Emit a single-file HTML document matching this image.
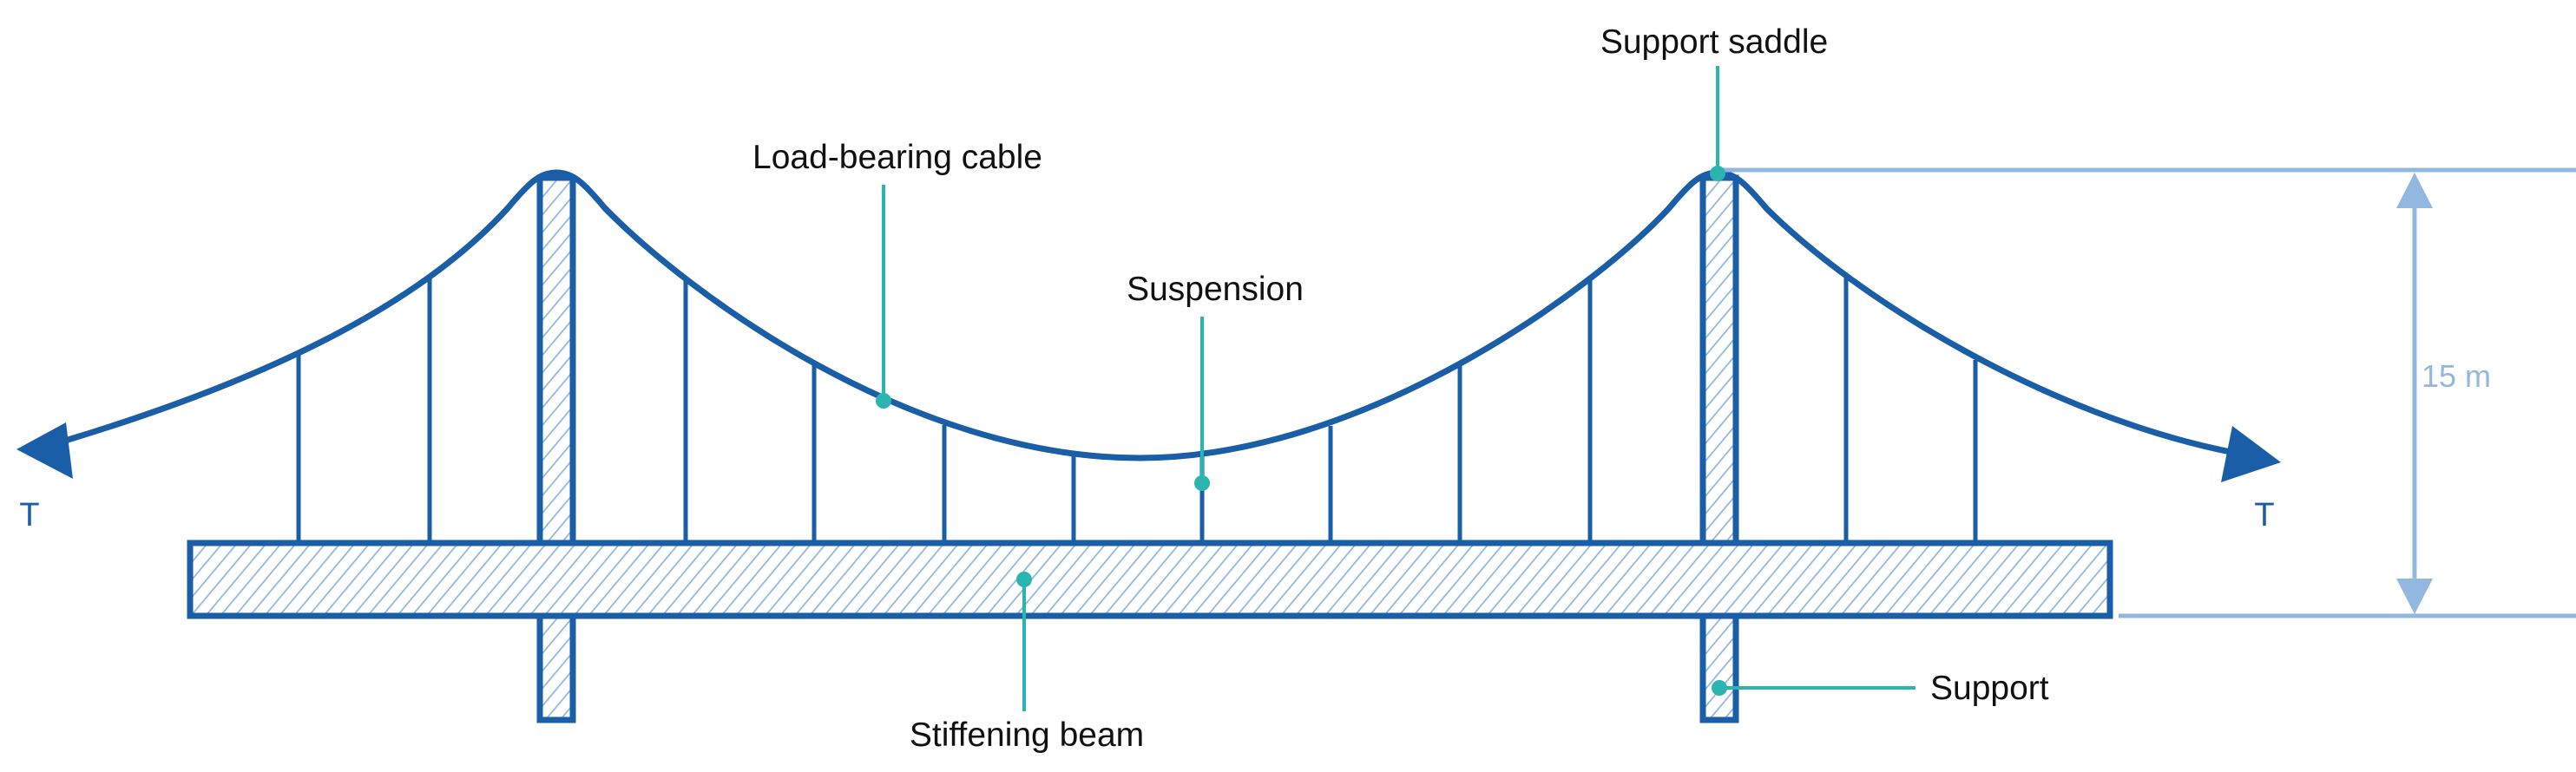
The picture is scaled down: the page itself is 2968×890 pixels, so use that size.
<!DOCTYPE html>
<html><head><meta charset="utf-8"><style>
html,body{margin:0;padding:0;background:#fff;}
svg{display:block;}
text{font-family:"Liberation Sans",sans-serif;}
</style></head><body>
<svg width="2968" height="890" viewBox="0 0 2968 890" xmlns="http://www.w3.org/2000/svg">
<defs>
<pattern id="h" patternUnits="userSpaceOnUse" width="13" height="13" patternTransform="rotate(40)">
<rect width="13" height="13" fill="#fff"/>
<line x1="0" y1="0" x2="0" y2="13" stroke="#8fb6e0" stroke-width="3.5"/>
</pattern>
</defs>
<g stroke="#1a5ea8" stroke-width="5" fill="none">
<line x1="344" y1="404" x2="344" y2="626"/>
<line x1="495" y1="318" x2="495" y2="626"/>
<line x1="790" y1="322" x2="790" y2="626"/>
<line x1="938" y1="420" x2="938" y2="626"/>
<line x1="1088" y1="490" x2="1088" y2="626"/>
<line x1="1237" y1="522" x2="1237" y2="626"/>
<line x1="1385" y1="524" x2="1385" y2="626"/>
<line x1="1533" y1="491" x2="1533" y2="626"/>
<line x1="1682" y1="420" x2="1682" y2="626"/>
<line x1="1832" y1="318" x2="1832" y2="626"/>
<line x1="2127" y1="320" x2="2127" y2="626"/>
<line x1="2276" y1="415" x2="2276" y2="626"/>
</g>
<rect x="622" y="205" width="38" height="625" fill="url(#h)" stroke="#1a5ea8" stroke-width="7"/>
<rect x="1962" y="205" width="38" height="625" fill="url(#h)" stroke="#1a5ea8" stroke-width="7"/>
<rect x="219" y="626" width="2212" height="84" fill="url(#h)" stroke="#1a5ea8" stroke-width="7"/>
<path fill="none" stroke="#1a5ea8" stroke-width="7" d="M75,508 C300,440 480,355 585,240 C610,210 622,199 641,199 C660,199 672,210 697,240 C795,340 1050,528 1313,528 C1570,528 1835,335 1923,240 C1948,210 1960,199 1979,199 C1998,199 2010,210 2035,240 C2140,345 2360,480 2575,522"/>
<polygon points="19,518 76,487 84,552" fill="#1a5ea8"/>
<polygon points="2628,533 2572,491 2559,556" fill="#1a5ea8"/>
<text x="34" y="606" font-size="38" fill="#1a5ea8" text-anchor="middle">T</text>
<text x="2609" y="606" font-size="38" fill="#1a5ea8" text-anchor="middle">T</text>
<g stroke="#93b8e0" stroke-width="5">
<line x1="1979" y1="196" x2="2968" y2="196"/>
<line x1="2441" y1="710" x2="2968" y2="710"/>
<line x1="2782" y1="230" x2="2782" y2="680"/>
</g>
<polygon points="2782,199 2761,240 2803,240" fill="#93b8e0"/>
<polygon points="2782,708 2761,667 2803,667" fill="#93b8e0"/>
<text x="2790" y="446" font-size="36" fill="#93b8e0">15 m</text>
<g stroke="#2ab5b0" stroke-width="4">
<line x1="1979" y1="76" x2="1979" y2="200"/>
<line x1="1018" y1="213" x2="1018" y2="462"/>
<line x1="1385" y1="365" x2="1385" y2="557"/>
<line x1="1180" y1="668" x2="1180" y2="820"/>
<line x1="1981" y1="793" x2="2207" y2="793"/>
</g>
<g fill="#2ab5b0">
<circle cx="1979" cy="200" r="9"/>
<circle cx="1018" cy="462" r="9"/>
<circle cx="1385" cy="557" r="9"/>
<circle cx="1180" cy="668" r="9"/>
<circle cx="1981" cy="793" r="9"/>
</g>
<g font-size="39" fill="#111">
<text x="1975" y="61" text-anchor="middle">Support saddle</text>
<text x="1034" y="194" text-anchor="middle">Load-bearing cable</text>
<text x="1400" y="346" text-anchor="middle">Suspension</text>
<text x="1183" y="860" text-anchor="middle">Stiffening beam</text>
<text x="2224" y="806">Support</text>
</g>
</svg>
</body></html>
